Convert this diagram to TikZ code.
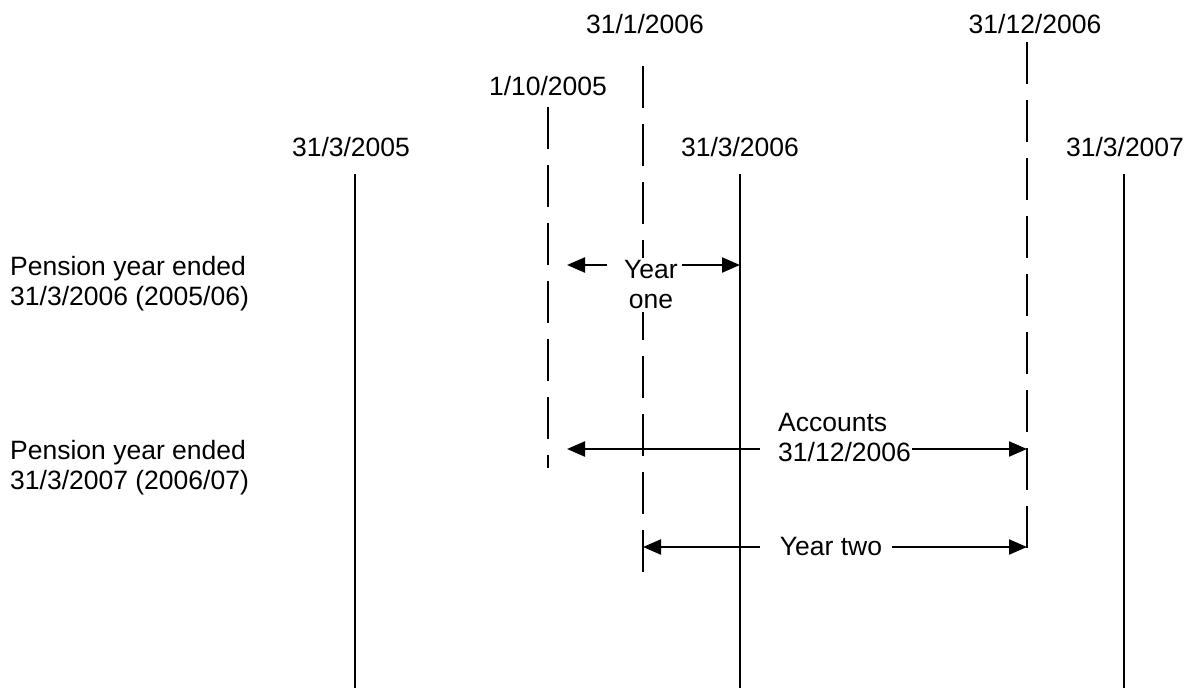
\documentclass[tikz,border=0pt]{standalone}
\usepackage{fontspec}
\setmainfont{Liberation Sans}
\usetikzlibrary{arrows.meta,positioning}

\begin{document}
\begin{tikzpicture}[x=1pt,y=-1pt,>={Triangle[length=18pt,width=15pt]},line join=miter]
\useasboundingbox (0,0) rectangle (1189,688);
\tikzset{lbl/.style={font=\fontsize{26.5}{30}\selectfont,inner sep=0pt,text=black},solidline/.style={draw=black,line width=2.2pt},dashline/.style={draw=black,line width=2.2pt,dash pattern=on 42pt off 16pt},span/.style={draw=black,line width=2.2pt,->}}
% dates
\node[lbl] (d0503) at (351,147) {31/3/2005};
\node[lbl] (d0603) at (740,147) {31/3/2006};
\node[lbl] (d0703) at (1125,147) {31/3/2007};
\node[lbl] (d0510) at (548,86) {1/10/2005};
\node[lbl] (d0601) at (645,24) {31/1/2006};
\node[lbl] (d0612) at (1035,24) {31/12/2006};
% year ends
\draw[solidline] (355,174) -- (355,688);
\draw[solidline] (740,174) -- (740,688);
\draw[solidline] (1124,174) -- (1124,688);
\draw[dashline] (548,107) -- (548,468);
\draw[dashline] (643,66) -- (643,574);
\draw[dashline] (1027,42) -- (1027,556);
% pension years
\node[lbl,anchor=west,align=left] (pen06) at (10,284) {Pension year ended\\31/3/2006 (2005/06)};
\node[lbl,anchor=west,align=left] (pen07) at (10,468) {Pension year ended\\31/3/2007 (2006/07)};
% year one
\node[lbl,align=center,fill=white,inner ysep=3pt] (yrone) at (651,285) {Year\\one};
\coordinate (yroneL) at (607,265); \coordinate (yroneLt) at (567,265);
\coordinate (yroneR) at (682,265); \coordinate (yroneRt) at (740,265);
\draw[span] (yroneL) -- (yroneLt);
\draw[span] (yroneR) -- (yroneRt);
% accounts
\node[lbl,anchor=west,align=left] (acc) at (778,438) {Accounts\\31/12/2006};
\coordinate (accL) at (760,449); \coordinate (accLt) at (567,449);
\coordinate (accR) at (912,449); \coordinate (accRt) at (1027,449);
\draw[span] (accL) -- (accLt);
\draw[span] (accR) -- (accRt);
% year two
\node[lbl] (yrtwo) at (831,547) {Year two};
\coordinate (yrtwoL) at (760,547); \coordinate (yrtwoLt) at (643,547);
\coordinate (yrtwoR) at (892,547); \coordinate (yrtwoRt) at (1027,547);
\draw[span] (yrtwoL) -- (yrtwoLt);
\draw[span] (yrtwoR) -- (yrtwoRt);
\end{tikzpicture}
\end{document}
